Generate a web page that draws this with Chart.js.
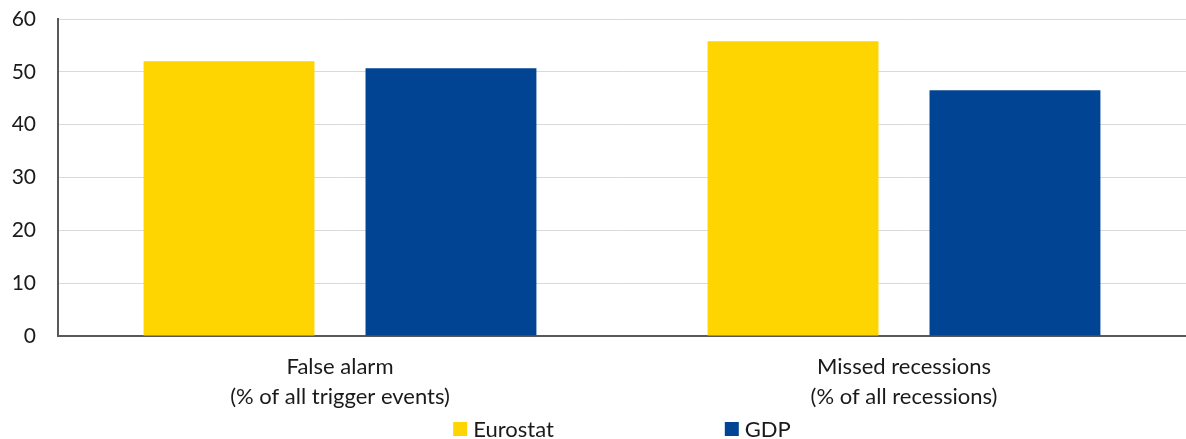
<!DOCTYPE html>
<html>
<head>
<meta charset="utf-8">
<script src="https://cdn.jsdelivr.net/npm/chart.js@4/dist/chart.umd.min.js"></script>
<style>
  html, body { margin: 0; padding: 0; background: #ffffff; overflow: hidden; }
  #wrap { width: 1186px; height: 439px; position: relative; }
  #chart { display: block; }
</style>
</head>
<body>
<div id="wrap"><canvas id="chart"></canvas></div>
<script>
const categories = [
  ["False alarm", "(% of all trigger events)"],
  ["Missed recessions", "(% of all recessions)"],
];
const eurostatValues = [52.0, 55.8];
const gdpValues = [50.7, 46.5];
const seriesNames = ["Eurostat", "GDP"];
const seriesColors = ["#FED500", "#024494"];

const FONT = "Lato, 'Open Sans', sans-serif";

// legend drawn by hand: the wide gap between the two items can't be done with legend.padding
const wideLegend = {
  id: "wideLegend",
  afterDraw(chart) {
    const { ctx, chartArea } = chart;
    const box = 14;
    const textGap = 6;
    const itemGap = 171;
    ctx.save();
    ctx.font = "22px " + FONT;
    ctx.textBaseline = "middle";
    const items = chart.data.datasets.map((ds) => ({
      text: ds.label,
      color: ds.backgroundColor,
      width: box + textGap + ctx.measureText(ds.label).width,
    }));
    const total = items.reduce((sum, it) => sum + it.width, 0) + itemGap * (items.length - 1);
    let x = (chartArea.left + chartArea.right) / 2 - total / 2;
    const y = 429;
    items.forEach((it) => {
      ctx.fillStyle = it.color;
      ctx.fillRect(x, y - box / 2, box, box);
      ctx.fillStyle = "#1a1a1a";
      ctx.fillText(it.text, x + box + textGap, y + 1);
      x += it.width + itemGap;
    });
    ctx.restore();
  },
};

new Chart(document.getElementById("chart"), {
  type: "bar",
  data: {
    labels: categories,
    datasets: [
      { label: seriesNames[0], data: eurostatValues, backgroundColor: seriesColors[0] },
      { label: seriesNames[1], data: gdpValues, backgroundColor: seriesColors[1] },
    ],
  },
  options: {
    responsive: true,
    maintainAspectRatio: false,
    animation: false,
    datasets: {
      bar: { categoryPercentage: 0.787, barPercentage: 0.77 },
    },
    layout: { padding: { top: 19, left: 12, right: 0, bottom: 27 } },
    plugins: {
      legend: { display: false },
      tooltip: { enabled: false },
    },
    scales: {
      x: {
        grid: { display: false, drawTicks: false },
        border: { display: true, color: "#595959", width: 2 },
        ticks: {
          color: "#1a1a1a",
          font: { family: FONT, size: 22, lineHeight: 1.36 },
          padding: 16,
          maxRotation: 0,
        },
        afterFit(scale) { scale.height = 76; },
      },
      y: {
        min: 0,
        max: 60,
        grid: { color: "#d9d9d9", lineWidth: 1, drawTicks: false },
        border: { display: true, color: "#595959", width: 2 },
        ticks: {
          stepSize: 10,
          color: "#1a1a1a",
          font: { family: FONT, size: 21 },
          padding: 22,
        },
        afterFit(scale) {
          // tick padding would otherwise be added above the top gridline
          scale.width = 46;
          scale.paddingTop = 10;
          scale.paddingBottom = 0;
        },
      },
    },
  },
  plugins: [wideLegend],
});
</script>
</body>
</html>
